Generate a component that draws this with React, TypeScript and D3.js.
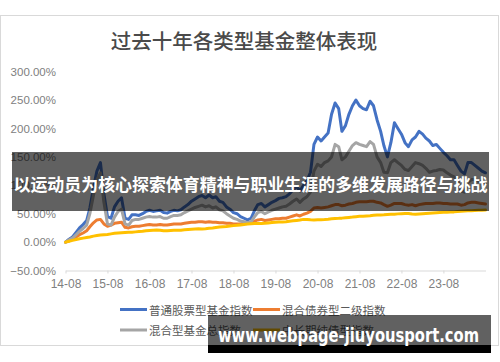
import React, { useEffect, useRef } from 'react';
import * as d3 from 'd3';

// text
const chartTitle = '过去十年各类型基金整体表现';
const bannerText = '以运动员为核心探索体育精神与职业生涯的多维发展路径与挑战';
const watermarkText = 'www.webpage-jiuyousport.com';

const seriesNames = ['普通股票型基金指数', '混合债券型二级指数', '混合型基金总指数', '中长期纯债型指数'];
const seriesColors = ['#4472C4', '#ED7D31', '#A5A5A5', '#FFC000'];

// monthly values (%), 2014-08 .. 2024-08
const stockIdx = [
  0, 5, 9, 17, 25,
  31, 38, 60, 95, 125, 140, 85, 45, 42, 62, 72, 78,
  42, 40, 48, 48, 47, 50, 54, 56, 54, 55, 56, 52,
  51, 54, 56, 55, 57, 62, 66, 72, 76, 80, 82, 78,
  83, 78, 80, 72, 70, 62, 58, 52, 50, 45, 42, 39,
  42, 56, 66, 68, 62, 66, 70, 73, 77, 78, 80, 85,
  92, 98, 90, 100, 108, 123, 172, 185, 178, 185, 192, 225,
  245, 235, 195, 205, 225, 240, 250, 240, 235, 233, 248, 240,
  215, 195, 170, 150, 175, 210, 200, 190, 175, 168, 180, 185,
  195, 190, 183, 178, 170, 172, 165, 158, 152, 145, 145, 135,
  125, 120, 140, 140, 135, 130, 125, 122,
];

const bondMixIdx = [
  0, 2, 5, 9, 13,
  16, 20, 27, 34, 39, 40, 32, 28, 30, 33, 34, 35,
  26, 25, 27, 28, 28, 29, 30, 31, 30, 30, 31, 30,
  30, 31, 32, 32, 32, 33, 34, 35, 35, 36, 36, 35,
  36, 35, 35, 34, 34, 33, 33, 32, 32, 32, 33, 33,
  34, 37, 39, 40, 38, 39, 40, 41, 41, 42, 42, 44,
  46, 48, 46, 49, 51, 54, 60, 61, 60, 61, 62, 64,
  66, 66, 64, 65, 67, 68, 70, 71, 71, 71, 72, 72,
  70, 69, 66, 63, 65, 68, 68, 68, 66, 65, 66, 64,
  66, 67, 68, 68, 68, 69, 69, 68, 68, 67, 67, 67,
  65, 66, 69, 70, 70, 69, 68, 67,
];

const hybridIdx = [
  0, 4, 7, 13, 19,
  24, 30, 50, 82, 110, 122, 70, 32, 30, 44, 54, 58,
  32, 30, 38, 40, 40, 42, 44, 45, 44, 44, 45, 42,
  42, 45, 47, 47, 48, 52, 55, 58, 61, 63, 65, 62,
  64, 60, 62, 57, 55, 50, 46, 42, 40, 37, 36, 34,
  36, 45, 52, 54, 50, 53, 56, 58, 60, 62, 63, 67,
  72, 76, 70, 76, 80, 88, 125, 137, 133, 140, 143, 150,
  172, 168, 145, 150, 160, 170, 175, 172, 170, 168, 177, 172,
  150, 140, 123, 122, 140, 145, 140, 135, 128, 126, 133, 140,
  138, 135, 130, 123, 125, 126, 128, 127, 122, 118, 115, 110,
  90, 88, 105, 110, 110, 107, 105, 103,
];

const pureBondIdx = [
  0, 1.5, 3, 4.5, 6,
  7, 8, 9, 10.5, 11.5, 12.5, 13, 13.5, 14.5, 15.5, 16, 16.5,
  17, 17.5, 17.5, 18, 18.5, 19, 19.8, 20.5, 21, 21.3, 20.8, 20,
  20.2, 20.5, 20.8, 21, 21, 21.6, 22.2, 22.6, 23, 23.3, 23.2, 23.6,
  24.2, 24.8, 25.6, 26.5, 27, 27.6, 28.4, 29, 29.5, 30.2, 30.9, 31.7,
  32.2, 32.6, 32.9, 32.8, 33.3, 33.8, 34.4, 35, 35.3, 35.5, 36, 36.7,
  37.4, 38.2, 39, 40, 39.7, 39.2, 39, 39.2, 39.4, 39.7, 40.2, 41,
  41.5, 41.8, 42.2, 42.9, 43.5, 44, 44.8, 45.3, 45.6, 46, 46.5, 47.2,
  47.7, 47.9, 48, 48.5, 48.9, 49.2, 49.7, 50.1, 50.2, 50.4, 49.3, 49,
  49.6, 50, 50.4, 50.8, 51.2, 51.6, 52, 52.4, 52.5, 52.8, 53.2, 53.8,
  54.3, 54.7, 55, 55.3, 55.6, 55.9, 56.2, 56.4,
];

const allSeries = [stockIdx, bondMixIdx, hybridIdx, pureBondIdx];

const yTicks = [-50, 0, 50, 100, 150, 200, 250, 300];
const xTickLabels = ['14-08', '15-08', '16-08', '17-08', '18-08', '19-08', '20-08', '21-08', '22-08', '23-08'];

const months = d3.timeMonth.range(new Date(2014, 7, 1), new Date(2024, 8, 2));
const parseTick = d3.timeParse('%y-%m');

const App = () => {
  const xAxisRef = useRef<SVGGElement>(null);
  const yAxisRef = useRef<SVGGElement>(null);

  const x = d3.scaleTime()
    .domain([new Date(2014, 7, 1), new Date(2024, 7, 1)])
    .range([65.5, 485.5]);
  const y = d3.scaleLinear().domain([-50, 300]).range([270.5, 71.7]);

  const line = d3.line<number>()
    .x((d, i) => x(months[i]))
    .y(d => y(d))
    .curve(d3.curveLinear);

  useEffect(() => {
    // x axis
    const gx = d3.select(xAxisRef.current);
    gx.selectAll('*').remove();
    gx.call(
      d3.axisBottom(x)
        .tickValues(xTickLabels.map(s => parseTick(s) as Date))
        .tickFormat(d => d3.timeFormat('%y-%m')(d as Date))
        .tickSize(3)
        .tickSizeOuter(0)
        .tickPadding(6)
    );
    gx.select('.domain').attr('stroke', '#d9d9d9');
    gx.selectAll('.tick line').attr('stroke', '#d9d9d9');
    gx.selectAll('.tick text')
      .attr('fill', '#808080')
      .style('font-size', '12px')
      .style('font-family', '"Liberation Sans", Arial, sans-serif');

    // y labels only
    const gy = d3.select(yAxisRef.current);
    gy.selectAll('*').remove();
    gy.call(
      d3.axisLeft(y)
        .tickValues(yTicks)
        .tickFormat(d => d3.format('.2%')((d as number) / 100))
        .tickSize(0)
        .tickPadding(0)
    );
    gy.select('.domain').remove();
    gy.selectAll('.tick text')
      .attr('fill', '#808080')
      .style('font-size', '11.5px')
      .style('font-family', '"Liberation Sans", Arial, sans-serif');
  }, []);

  return (
    <svg width={500} height={362} style={{ position: 'absolute', left: 0, top: 0, background: '#fff' }}>
      <rect x={0.5} y={15.5} width={498} height={330} fill="#fff" stroke="#d9d9d9" />
      <text x={244} y={40} textAnchor="middle" dominantBaseline="central"
        style={{ fontFamily: '"Noto Sans CJK SC", sans-serif', fontSize: 20.5, fontWeight: 500, fill: '#4a4a4a' }}>
        {chartTitle}
      </text>

      <g ref={yAxisRef} transform="translate(56,0)" />
      <g ref={xAxisRef} transform="translate(0,270.5)" />

      {allSeries.map((s, i) => (
        <path key={i} d={line(s) || ''} fill="none" stroke={seriesColors[i]}
          strokeWidth={3} strokeLinejoin="round" strokeLinecap="round" />
      ))}

      {seriesNames.map((name, i) => {
        const lx = i % 2 === 0 ? 120 : 253;
        const ly = i < 2 ? 309.5 : 330;
        return (
          <g key={name}>
            <line x1={lx} x2={lx + 27} y1={ly} y2={ly} stroke={seriesColors[i]} strokeWidth={3} />
            <text x={lx + 29} y={ly} dominantBaseline="central"
              style={{ fontFamily: '"Noto Sans CJK SC", sans-serif', fontSize: 11.5, fill: '#595959' }}>
              {name}
            </text>
          </g>
        );
      })}

      {/* overlay banner */}
      <rect x={12} y={152} width={477} height={59} fill="rgba(0,0,0,0.62)" />
      <text x={250.5} y={183} textAnchor="middle" dominantBaseline="central" textLength={474}
        lengthAdjust="spacingAndGlyphs"
        style={{ fontFamily: '"Noto Sans CJK SC", sans-serif', fontSize: 17.5, fontWeight: 700, fill: '#fff' }}>
        {bannerText}
      </text>

      {/* watermark */}
      <rect x={208} y={315} width={283} height={30} fill="rgba(0,0,0,0.62)" />
      <rect x={208} y={345} width={283} height={8} fill="#000" />
      <text x={218} y={342} textLength={261} lengthAdjust="spacingAndGlyphs"
        style={{ fontFamily: '"DejaVu Sans", sans-serif', fontSize: 19, fontWeight: 700, fill: '#fff' }}>
        {watermarkText}
      </text>
    </svg>
  );
};

export default App;
